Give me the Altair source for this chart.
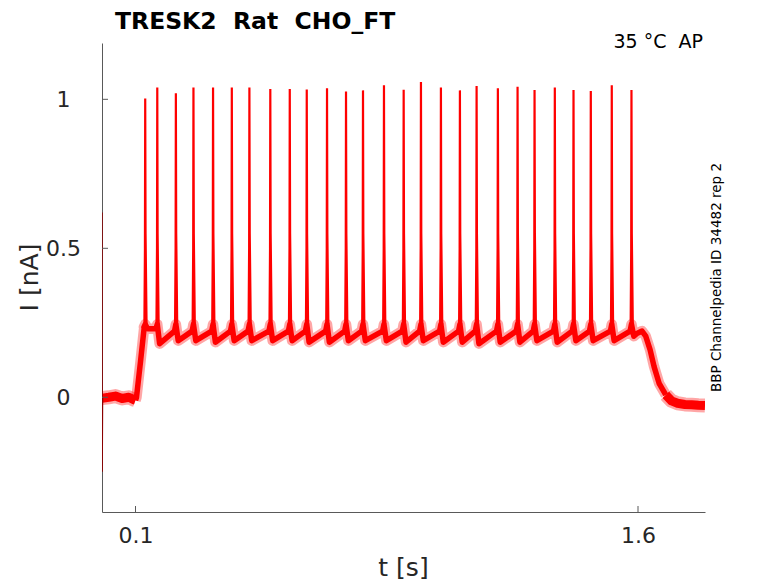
import altair as alt
import pandas as pd

# ---- values ----
spike_t = [0.129, 0.165, 0.2205, 0.273, 0.3315, 0.3875, 0.440, 0.5024, 0.5605,
           0.6112, 0.6717, 0.7284, 0.7791, 0.8417, 0.9005, 0.9521, 1.0117, 1.0684,
           1.1182, 1.1817, 1.2405, 1.2912, 1.3517, 1.4075, 1.4591, 1.5217, 1.5805]
spike_peak = [1.003, 1.040, 1.020, 1.040, 1.040, 1.040, 1.040, 1.035, 1.035,
              1.033, 1.037, 1.026, 1.030, 1.047, 1.032, 1.058, 1.040, 1.030,
              1.045, 1.037, 1.042, 1.031, 1.040, 1.031, 1.028, 1.047, 1.031]
pre_level = [0.235, 0.230, 0.222, 0.222, 0.222, 0.222, 0.222, 0.222, 0.222,
             0.222, 0.222, 0.222, 0.222, 0.222, 0.222, 0.222, 0.222, 0.222,
             0.222, 0.222, 0.222, 0.222, 0.222, 0.222, 0.222, 0.222, 0.222]
trough = [0.230, 0.180, 0.190, 0.190, 0.185, 0.190, 0.190, 0.190, 0.190,
          0.185, 0.185, 0.190, 0.190, 0.190, 0.185, 0.190, 0.185, 0.185,
          0.180, 0.185, 0.185, 0.190, 0.185, 0.190, 0.190, 0.190, 0.205]
spike_base = 0.245

start_t = [0.0, 0.02, 0.04, 0.06, 0.08, 0.095, 0.100]
start_i = [-0.003, 0.0, 0.004, -0.004, 0.0, -0.008, -0.01]
ramp_t = [0.100, 0.103, 0.115, 0.126]
ramp_i = [-0.01, 0.0, 0.12, 0.235]
end_t = [1.598, 1.612, 1.623, 1.636, 1.648, 1.663, 1.683]
end_i = [0.215, 0.222, 0.205, 0.160, 0.103, 0.047, 0.008]
tail_t = [1.683, 1.70, 1.718, 1.74, 1.76, 1.78, 1.80]
tail_i = [0.008, -0.012, -0.020, -0.024, -0.025, -0.027, -0.028]
transient_t = [0.0, 0.0004, 0.0015]
transient_i = [0.62, -0.25, 0.0]

x_ticks = [0.1, 1.6]
y_ticks = [0, 0.5, 1]
x_domain = [0.0, 1.8]
y_domain = [-0.385, 1.189]

# ---- build tables ----
base_rows = []
def add(t, i, seg, w):
    base_rows.append({"t": t, "I": i, "seg": seg, "w": w, "o": len(base_rows)})

for t, i in zip(start_t, start_i):
    add(t, i, "a", 9)
for t, i in zip(ramp_t, ramp_i):
    add(t, i, "b", 5.5)
for k, ts in enumerate(spike_t):
    add(ts - 0.004, pre_level[k], "b", 5.5)
    add(ts, spike_base, "b", 5.5)
    add(ts + 0.007, trough[k], "b", 5.5)
for t, i in zip(end_t, end_i):
    add(t, i, "b", 5.5)
for t, i in zip(tail_t, tail_i):
    add(t, i, "c", 9)
base_df = pd.DataFrame(base_rows)

spike_rows = []
for k, (ts, pk) in enumerate(zip(spike_t, spike_peak)):
    for j, (dt, v) in enumerate([(-0.0025, spike_base - 0.01), (-0.0008, 0.5), (0.0, pk),
                                 (0.001, 0.55), (0.004, spike_base)]):
        spike_rows.append({"t": ts + dt, "I": v, "k": k, "o": j})
spike_df = pd.DataFrame(spike_rows)

tr_df = pd.DataFrame({"t": transient_t, "I": transient_i, "o": range(len(transient_t))})

xs = alt.Scale(domain=x_domain, nice=False, zero=False)
ys = alt.Scale(domain=y_domain, nice=False, zero=False)

FONT = "DejaVu Sans"
TXT = "#262626"
AX = "#595959"

x_axis = alt.Axis(values=x_ticks, format=".1f", grid=False, ticks=False, tickSize=0,
                  labelFont=FONT, labelFontSize=22, labelColor=TXT, labelPadding=13,
                  domainColor=AX, domainWidth=1, title=None, labelFlush=False)
y_axis = alt.Axis(values=y_ticks, format="~g", grid=False, ticks=False, tickSize=0,
                  labelFont=FONT, labelFontSize=22, labelColor=TXT, labelPadding=39,
                  labelAlign="center", domainColor=AX, domainWidth=1, title=None)

fringe = alt.Chart(base_df).mark_line(color="#ff0000", strokeJoin="round", opacity=0.35,
                                       clip=True).encode(
    x=alt.X("t:Q", scale=xs, axis=x_axis),
    y=alt.Y("I:Q", scale=ys, axis=y_axis),
    detail="seg:N",
    strokeWidth=alt.StrokeWidth("w:Q", scale=alt.Scale(type="linear", domain=[0, 10], range=[5, 15]), legend=None),
    order="o:Q",
)

base = alt.Chart(base_df).mark_line(color="#ff0000", strokeJoin="round", strokeCap="butt",
                                     clip=True).encode(
    x=alt.X("t:Q", scale=xs),
    y=alt.Y("I:Q", scale=ys),
    detail="seg:N",
    strokeWidth=alt.StrokeWidth("w:Q", scale=None, legend=None),
    order="o:Q",
)

spikes = alt.Chart(spike_df).mark_line(color="#ff0000", strokeWidth=2.2, clip=True).encode(
    x=alt.X("t:Q", scale=xs),
    y=alt.Y("I:Q", scale=ys),
    detail="k:N",
    order="o:Q",
)

trans = alt.Chart(tr_df).mark_line(color="#8b0000", strokeWidth=1.5, clip=True).encode(
    x=alt.X("t:Q", scale=xs),
    y=alt.Y("I:Q", scale=ys),
    order="o:Q",
)

ytick_df = pd.DataFrame({"v": y_ticks})
xtick_df = pd.DataFrame({"v": x_ticks})
yticks = alt.Chart(ytick_df).mark_rule(color=AX, strokeWidth=1).encode(
    y=alt.Y("v:Q", scale=ys), x=alt.value(0), x2=alt.value(6))
xticks = alt.Chart(xtick_df).mark_rule(color=AX, strokeWidth=1).encode(
    x=alt.X("v:Q", scale=xs), y=alt.value(469), y2=alt.value(463))

def label(text, x, y, size, weight="normal", align="left", color=TXT, angle=0):
    return alt.Chart(pd.DataFrame({"s": [text]})).mark_text(
        font=FONT, fontSize=size, fontWeight=weight, align=align, angle=angle,
        baseline="alphabetic", color=color
    ).encode(x=alt.value(x), y=alt.value(y), text="s:N")

title = label("TRESK2\u00a0 Rat\u00a0 CHO_FT", 13, -14, 23.5, weight="bold", color="#000000")
temp = label("35 \u00b0C\u00a0 AP", 601, 5, 19, align="right", color="#000000")
side = label("BBP Channelpedia ID 34482 rep 2", 619, 234.5, 13.5, align="center",
             color="#000000", angle=270)
xtitle = label("t [s]", 301.5, 533, 25, align="center")
ytitle = label("I [nA]", -64, 234.5, 25, align="center", angle=270)

chart = alt.layer(fringe, base, spikes, trans, yticks, xticks, title, temp, side, xtitle, ytitle).properties(
    width=603, height=469,
    padding={"left": 94, "top": 35, "right": 60, "bottom": 72},
    autosize=alt.AutoSizeParams(type="none"),
    background="#ffffff",
).configure_view(strokeOpacity=0)

chart.save("out.html", embed_options={"renderer": "svg", "actions": False})
